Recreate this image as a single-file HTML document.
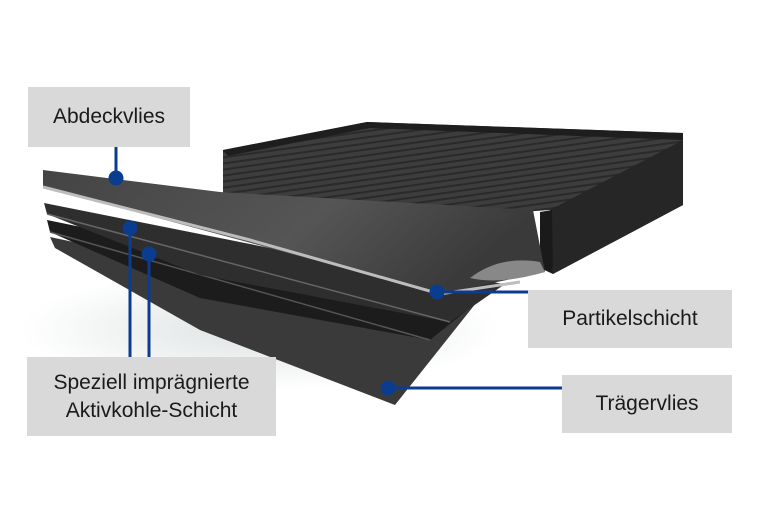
<!DOCTYPE html>
<html><head><meta charset="utf-8"><style>
body{margin:0;width:760px;height:507px;background:#fff;position:relative;overflow:hidden;font-family:"Liberation Sans",sans-serif}
.b{position:absolute;background:#d9d9d9;color:#1a1a1a;font-size:21px;display:flex;align-items:center;justify-content:center;text-align:center;line-height:28px}
svg{position:absolute;left:0;top:0}
</style></head><body>
<svg width="760" height="507">
<defs>
<linearGradient id="g" x1="0" y1="0" x2="1" y2="0.3"><stop offset="0" stop-color="#444"/><stop offset="0.6" stop-color="#555"/><stop offset="1" stop-color="#3a3a3a"/></linearGradient>
<pattern id="pl" width="6" height="6" patternUnits="userSpaceOnUse" patternTransform="rotate(-8)"><rect width="6" height="6" fill="#3d3d3d"/><rect width="6" height="2" fill="#2a2a2a"/></pattern>
<radialGradient id="sh"><stop offset="0" stop-color="#dde2e2"/><stop offset="1" stop-color="#fff"/></radialGradient>
</defs>
<ellipse cx="260" cy="330" rx="240" ry="60" fill="url(#sh)"/>
<!-- box -->
<polygon points="223,150 367,122 683,133 683,205 553,274 550,210 223,232" fill="url(#pl)"/>
<polygon points="223,150 367,122 683,133 683,140 370,128 228,156" fill="#1e1e1e"/>
<polygon points="550,210 683,140 683,205 553,274" fill="#262626"/>
<polygon points="540,212 552,210 553,274 540,268" fill="#1a1a1a"/>
<!-- bottom layer -->
<polygon points="50,237 300,290 480,298 395,405 200,330 55,248" fill="#3a3a3a"/>
<!-- layer 4 -->
<polygon points="47,220 300,272 492,290 430,340 200,298 50,232" fill="#1c1c1c"/>
<line x1="50" y1="232" x2="430" y2="340" stroke="#555" stroke-width="1.5"/>
<!-- layer 3 -->
<polygon points="44,203 300,254 505,284 450,322 200,275 47,214" fill="#2e2e2e"/>
<line x1="47" y1="214" x2="450" y2="322" stroke="#666" stroke-width="1.5"/>
<!-- top sheet -->
<polygon points="43,170 220,192 533,210 545,272 440,294 43,187" fill="url(#g)"/>
<polyline points="43,187 250,240 440,294 520,282" fill="none" stroke="#bdbdbd" stroke-width="3"/>
<path d="M470,278 Q500,255 540,262 L545,272 Q500,285 470,278Z" fill="#888"/>
<g stroke="#0a3d8f" stroke-width="3" fill="#0a3d8f">
<line x1="116" y1="147" x2="116" y2="178"/><circle cx="116" cy="178" r="6"/>
<line x1="130" y1="228" x2="130" y2="357"/><circle cx="130" cy="228" r="6"/>
<line x1="149" y1="254" x2="149" y2="357"/><circle cx="149" cy="254" r="6"/>
<line x1="437" y1="292" x2="528" y2="292"/><circle cx="437" cy="292" r="6"/>
<line x1="388" y1="388" x2="562" y2="388"/><circle cx="388" cy="388" r="6"/>
</g>
</svg>
<div class="b" style="left:28px;top:87px;width:162px;height:60px">Abdeckvlies</div>
<div class="b" style="left:27px;top:357px;width:249px;height:79px">Speziell imprägnierte<br>Aktivkohle-Schicht</div>
<div class="b" style="left:528px;top:290px;width:204px;height:58px">Partikelschicht</div>
<div class="b" style="left:562px;top:375px;width:170px;height:58px">Trägervlies</div>
</body></html>
